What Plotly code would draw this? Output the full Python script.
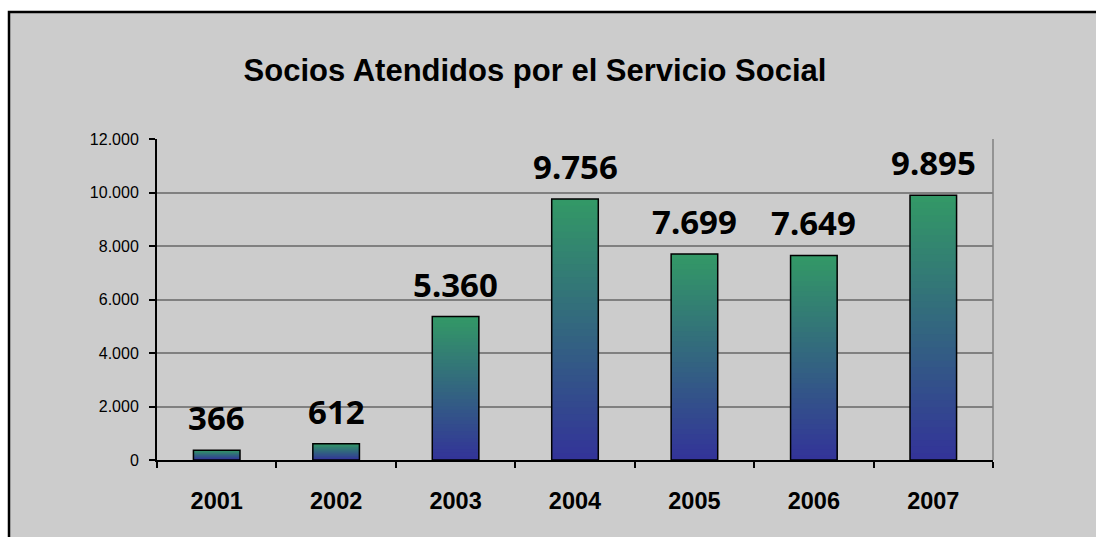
import plotly.graph_objects as go

years = ["2001", "2002", "2003", "2004", "2005", "2006", "2007"]
socios = [366, 612, 5360, 9756, 7699, 7649, 9895]
y_ticks = [0, 2000, 4000, 6000, 8000, 10000, 12000]
title_text = "Socios Atendidos por el Servicio Social"

W, H = 1096, 537
L, R, T, B = 157, 993, 139, 460

bottom_rgb = (51, 51, 153)
top_rgb = (51, 153, 102)
N = 40
BAR_W = 0.39

fig = go.Figure()

for i in range(N - 1, -1, -1):
    f = (i + 0.5) / N
    c = tuple(round(bottom_rgb[k] + (top_rgb[k] - bottom_rgb[k]) * f) for k in range(3))
    fig.add_trace(go.Bar(
        x=years, y=[v * (i + 1) / N for v in socios], width=BAR_W,
        marker=dict(color="rgb(%d,%d,%d)" % c, line=dict(width=0)),
        hoverinfo="skip", showlegend=False,
    ))

fig.add_trace(go.Bar(
    x=years, y=socios, width=BAR_W,
    marker=dict(color="rgba(0,0,0,0)", line=dict(color="black", width=1.5)),
    showlegend=False,
))

def fmt(v):
    return "{:,}".format(v).replace(",", ".")

annotations = [
    dict(x=idx, y=v, xref="x", yref="y", text="<b>%s</b>" % fmt(v), showarrow=False,
         yanchor="bottom", xanchor="center", yshift=8,
         font=dict(family="Noto Sans", size=33, color="black"))
    for idx, v in enumerate(socios)
]

def px_x(p):
    return (p - L) / (R - L)

def px_y(p):
    return (B - p) / (B - T)

fig.update_layout(
    width=W, height=H,
    barmode="overlay",
    separators=",.",
    paper_bgcolor="white",
    plot_bgcolor="#CCCCCC",
    margin=dict(l=L, r=W - R, t=T, b=H - B, pad=0),
    title=dict(text="<b>%s</b>" % title_text, x=535 / W, xanchor="center",
               y=1 - 70 / H, yanchor="middle", xref="container", yref="container",
               font=dict(family="Liberation Sans", size=31, color="black")),
    xaxis=dict(
        type="category", categoryorder="array", categoryarray=years,
        range=[-0.5, 6.5], tickson="boundaries", ticks="outside", ticklen=6,
        tickwidth=1.5, tickcolor="black", showline=True, linecolor="black", linewidth=2,
        showgrid=False, tickfont=dict(family="Liberation Sans", size=23.5, color="black", weight="bold"),
        ticklabelstandoff=19,
    ),
    yaxis=dict(
        range=[0, 12000], tickvals=y_ticks, tickformat=",", ticks="outside", ticklen=6,
        tickwidth=1.5, tickcolor="black", showline=True, linecolor="black", linewidth=2,
        showgrid=True, gridcolor="#808080", gridwidth=1.5, zeroline=False,
        tickfont=dict(family="Liberation Sans", size=16, color="black"),
        ticklabelstandoff=7,
    ),
    annotations=annotations,
    shapes=[
        dict(type="rect", xref="paper", yref="paper", x0=px_x(9), x1=px_x(1130),
             y0=px_y(580), y1=px_y(12), line=dict(color="black", width=2.5),
             fillcolor="#CCCCCC", layer="below"),
        dict(type="line", xref="paper", yref="paper", x0=1, x1=1, y0=0, y1=1,
             line=dict(color="#808080", width=1.5)),
    ],
)

fig.write_html(
    "out.html",
    config={"displayModeBar": False},
    post_script="document.body.style.margin='0';document.body.style.overflow='hidden';",
)
